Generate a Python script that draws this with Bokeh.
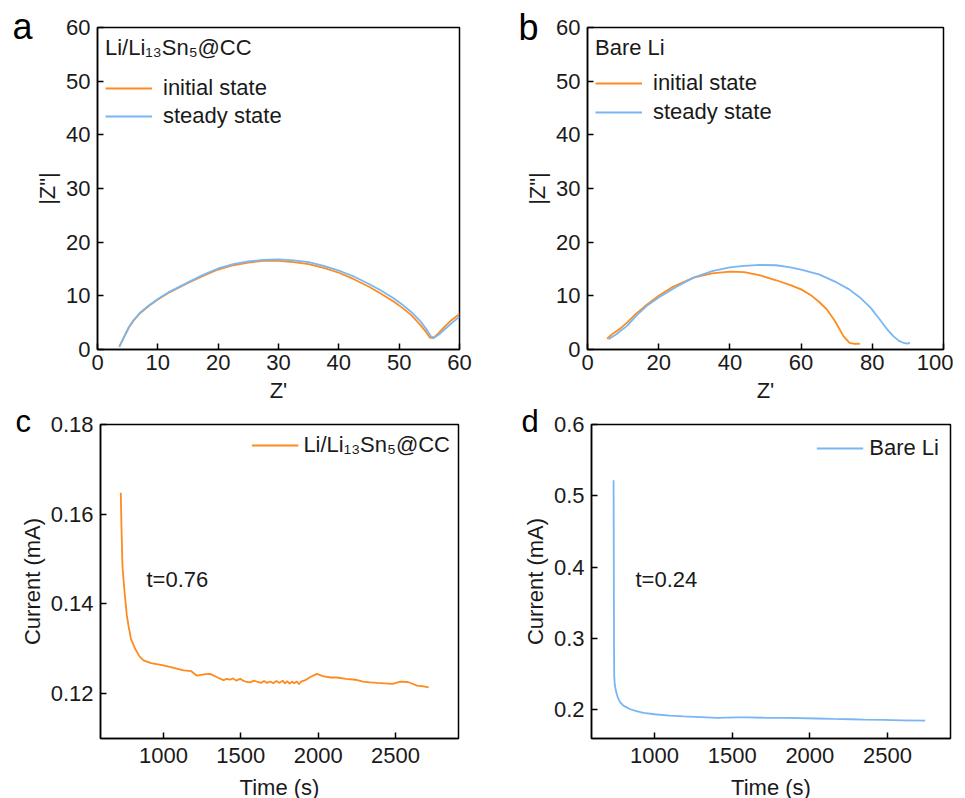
from bokeh.plotting import figure
from bokeh.layouts import column, row
from bokeh.models import Legend, LegendItem, Label, FixedTicker, Range1d
from bokeh.embed import file_html
from bokeh.resources import INLINE

FONT = "Liberation Sans"
ORANGE = "#FF8A1E"
BLUE = "#78B6F4"

# ---- panel a: Li/Li13Sn5@CC EIS ----
a_init_x = [3.6, 4.5, 5.2, 6.0, 7.1, 8.5, 10, 12, 15, 17.5, 20, 22.5, 25, 27.5, 30, 32.5, 35, 37.5,
            40, 42.5, 45, 47, 49, 50.5, 52, 53.5, 54.5, 55.1, 55.6, 56.5, 57.5, 58.5, 60]
a_init_y = [0.5, 2.5, 4.1, 5.4, 6.8, 8.1, 9.3, 10.7, 12.4, 13.7, 14.9, 15.7, 16.2, 16.5, 16.5, 16.3, 15.9, 15.2,
            14.3, 13.1, 11.7, 10.4, 9.0, 7.8, 6.4, 4.6, 3.2, 2.2, 2.1, 3.0, 4.2, 5.3, 6.6]
a_steady_x = [3.6, 4.5, 5.2, 6.0, 7.1, 8.5, 10, 12, 15, 17.5, 20, 22.5, 25, 27.5, 30, 32.5, 35, 37.5,
              40, 42.5, 45, 47, 49, 50.5, 52, 53.5, 54.5, 55.3, 55.8, 56.8, 57.8, 58.8, 60]
a_steady_y = [0.5, 2.6, 4.2, 5.5, 6.9, 8.2, 9.4, 10.8, 12.5, 13.9, 15.1, 15.9, 16.4, 16.7, 16.8, 16.6, 16.3, 15.6,
              14.7, 13.6, 12.2, 11.0, 9.6, 8.4, 7.0, 5.3, 3.8, 2.4, 2.2, 3.0, 4.0, 5.0, 6.1]

# ---- panel b: bare Li EIS ----
b_init_x = [5.5, 7, 9, 11.1, 13.5, 16, 20, 24, 29.8, 35, 40, 44, 48.5, 53, 57, 60, 63, 65, 67.2, 69.5,
            71.9, 73.6, 75, 76.5]
b_init_y = [2.0, 2.9, 3.8, 5.0, 6.6, 8.0, 10.0, 11.7, 13.4, 14.2, 14.5, 14.4, 13.8, 12.9, 12.0, 11.2, 10.0,
            8.9, 7.5, 5.3, 2.5, 1.25, 1.05, 1.07]
b_steady_x = [5.9, 8, 11.1, 14, 17, 20, 25, 29.8, 35, 40, 44, 48.5, 53, 57, 60, 65, 70, 73.5, 76.5, 79.5,
              82.1, 84, 85.9, 87.5, 88.7, 90, 90.6]
b_steady_y = [1.9, 2.8, 4.4, 6.5, 8.3, 9.7, 11.7, 13.4, 14.6, 15.3, 15.6, 15.75, 15.7, 15.3, 14.9, 14.0, 12.5,
              11.2, 9.7, 7.8, 5.6, 3.9, 2.5, 1.6, 1.25, 1.1, 1.3]

# ---- panel c: Li/Li13Sn5@CC chronoamperometry ----
c_t = [724, 728, 735, 745, 753, 763, 774, 790, 817, 845, 871, 920, 1000, 1060, 1130, 1180, 1216, 1260,
       1302, 1350, 1388, 1410, 1430, 1450, 1470, 1496, 1515, 1530, 1560, 1585, 1610, 1630, 1650, 1670,
       1690, 1710, 1730, 1750, 1770, 1785, 1800, 1815, 1830, 1845, 1862, 1876, 1890, 1916, 1950, 1991,
       2030, 2080, 2121, 2180, 2240, 2290, 2337, 2380, 2430, 2480, 2531, 2580, 2610, 2639, 2680, 2714]
c_i = [0.1648, 0.1580, 0.1484, 0.1440, 0.1410, 0.1375, 0.1351, 0.1322, 0.1300, 0.1283, 0.1274, 0.1268,
       0.1263, 0.1258, 0.1252, 0.1250, 0.1240, 0.1243, 0.1244, 0.1236, 0.1230, 0.1233, 0.1231, 0.1234,
       0.1229, 0.1233, 0.1229, 0.1227, 0.1225, 0.1229, 0.1226, 0.1224, 0.1228, 0.1224, 0.1227, 0.1223,
       0.1228, 0.1224, 0.1229, 0.1223, 0.1228, 0.1222, 0.1227, 0.1223, 0.1227, 0.1221, 0.1227, 0.1230,
       0.1237, 0.1244, 0.1239, 0.1236, 0.1236, 0.1233, 0.1231, 0.1227, 0.1225, 0.1224, 0.1223, 0.1222,
       0.1227, 0.1226, 0.1222, 0.1218, 0.1216, 0.1214]

# ---- panel d: bare Li chronoamperometry ----
d_t = [737, 738, 739, 740, 741, 745, 754, 765, 779, 800, 844, 890, 930, 1000, 1100, 1187, 1300, 1402,
       1530, 1600, 1723, 1850, 2045, 2150, 2260, 2350, 2474, 2600, 2742]
d_i = [0.522, 0.45, 0.36, 0.29, 0.248, 0.235, 0.225, 0.217, 0.211, 0.206, 0.201, 0.198, 0.196, 0.194,
       0.192, 0.191, 0.190, 0.189, 0.1895, 0.1895, 0.189, 0.1888, 0.188, 0.1875, 0.187, 0.1865, 0.186,
       0.1855, 0.185]

a_xticks = [0, 10, 20, 30, 40, 50, 60]
a_yticks = [0, 10, 20, 30, 40, 50, 60]
b_xticks = [0, 20, 40, 60, 80, 100]
b_yticks = [0, 10, 20, 30, 40, 50, 60]
c_xticks = [1000, 1500, 2000, 2500]
c_yticks = [0.12, 0.14, 0.16, 0.18]
d_xticks = [1000, 1500, 2000, 2500]
d_yticks = [0.2, 0.3, 0.4, 0.5, 0.6]


def make_fig(fw, fh, left, right, top, bottom, xr, yr, xticks, yticks, xlabel, ylabel,
             x_tick_standoff, x_label_standoff):
    p = figure(frame_width=fw, frame_height=fh, min_border_left=left, min_border_right=right,
               min_border_top=top, min_border_bottom=bottom,
               x_range=Range1d(*xr), y_range=Range1d(*yr),
               output_backend="svg", toolbar_location=None, tools="")
    p.grid.visible = False
    p.outline_line_color = "black"
    p.outline_line_width = 1.5
    p.outline_line_alpha = 1.0
    p.background_fill_color = "white"
    p.border_fill_color = "white"
    p.xaxis.ticker = FixedTicker(ticks=xticks)
    p.yaxis.ticker = FixedTicker(ticks=yticks)
    p.xaxis.axis_label = xlabel
    p.yaxis.axis_label = ylabel
    for ax in (p.xaxis[0], p.yaxis[0]):
        ax.axis_line_color = "black"
        ax.axis_line_width = 1.5
        ax.major_tick_in = 6
        ax.major_tick_out = 0
        ax.major_tick_line_width = 1.5
        ax.major_tick_line_color = "black"
        ax.minor_tick_line_color = None
        ax.major_label_text_font = FONT
        ax.major_label_text_font_size = "22px"
        ax.major_label_text_color = "#1a1a1a"
        ax.axis_label_text_font = FONT
        ax.axis_label_text_font_size = "22px"
        ax.axis_label_text_font_style = "normal"
        ax.axis_label_text_color = "#1a1a1a"
    p.xaxis.major_label_standoff = x_tick_standoff
    p.xaxis.axis_label_standoff = x_label_standoff
    p.yaxis.major_label_standoff = 7
    p.yaxis.axis_label_standoff = 3
    return p


def style_legend(lg):
    lg.label_text_font = FONT
    lg.label_text_font_size = "22px"
    lg.label_text_color = "#1a1a1a"
    lg.title_text_font = FONT
    lg.title_text_font_size = "22px"
    lg.title_text_font_style = "normal"
    lg.title_text_color = "#1a1a1a"
    lg.glyph_width = 47
    lg.glyph_height = 20
    lg.border_line_color = None
    lg.background_fill_alpha = 0


def letter(p, x, y, t, size):
    p.add_layout(Label(x=x, y=y, text=t, text_font=FONT, text_font_size=size,
                       text_baseline="alphabetic", text_align="left", text_color="black"), "left")


# panel a
pa = make_fig(362, 322, 97, 20, 27, 30, (0, 60), (0, 60), a_xticks, a_yticks, "Z'", '|Z"|', 5, 5)
ra1 = pa.line(a_init_x, a_init_y, line_color=ORANGE, line_width=1.8)
ra2 = pa.line(a_steady_x, a_steady_y, line_color=BLUE, line_width=1.8)
lga = Legend(items=[LegendItem(label="initial state", renderers=[ra1]),
                    LegendItem(label="steady state", renderers=[ra2])],
             location="top_left", title="Li/Li\u2081\u2083Sn\u2085@CC")
style_legend(lga)
lga.margin = 8
lga.padding = 9
lga.title_standoff = 14
lga.spacing = 2
lga.label_standoff = 11
pa.add_layout(lga)
letter(pa, -14.1, 60.25, "a", "36px")

# panel b
pb = make_fig(356, 322, 108, 10, 27, 30, (0, 100), (0, 60), b_xticks, b_yticks, "Z'", '|Z"|', 5, 5)
rb1 = pb.line(b_init_x, b_init_y, line_color=ORANGE, line_width=1.8)
rb2 = pb.line(b_steady_x, b_steady_y, line_color=BLUE, line_width=1.8)
lgb = Legend(items=[LegendItem(label="initial state", renderers=[rb1]),
                    LegendItem(label="steady state", renderers=[rb2])],
             location="top_left", title="Bare Li")
style_legend(lgb)
lgb.margin = 8
lgb.padding = 9
lgb.title_standoff = 9
lgb.spacing = 3
lgb.label_standoff = 11
pb.add_layout(lgb)
letter(pb, -19.4, 60.05, "b", "36px")

# panel c
pc = make_fig(358, 314, 97, 20, 19, 55, (593, 2907), (0.11, 0.18), c_xticks, c_yticks,
              "Time (s)", "Current (mA)", 9, 9)
rc = pc.line(c_t, c_i, line_color=ORANGE, line_width=1.8)
lgc = Legend(items=[LegendItem(label="Li/Li\u2081\u2083Sn\u2085@CC", renderers=[rc])], location="top_right")
style_legend(lgc)
lgc.margin = 8
lgc.padding = 0
lgc.label_standoff = 5
pc.add_layout(lgc)
pc.add_layout(Label(x=890, y=0.1455, text="t=0.76", text_font=FONT, text_font_size="22px",
                    text_baseline="middle", text_align="left", text_color="#1a1a1a"))
letter(pc, 43, 0.1807, "c", "31px")

# panel d
pd_ = make_fig(359, 314, 113, 10, 19, 55, (595, 2905), (0.16, 0.6), d_xticks, d_yticks,
               "Time (s)", "Current (mA)", 9, 9)
rd = pd_.line(d_t, d_i, line_color=BLUE, line_width=1.8)
lgd = Legend(items=[LegendItem(label="Bare Li", renderers=[rd])], location="top_right")
style_legend(lgd)
lgd.margin = 11
lgd.padding = 0
lgd.label_standoff = 6
pd_.add_layout(lgd)
pd_.add_layout(Label(x=878, y=0.383, text="t=0.24", text_font=FONT, text_font_size="22px",
                     text_baseline="middle", text_align="left", text_color="#1a1a1a"))
letter(pd_, 145, 0.6040, "d", "31px")

layout = column(row(pa, pb), row(pc, pd_))
open("out.html", "w").write(file_html(layout, INLINE))
